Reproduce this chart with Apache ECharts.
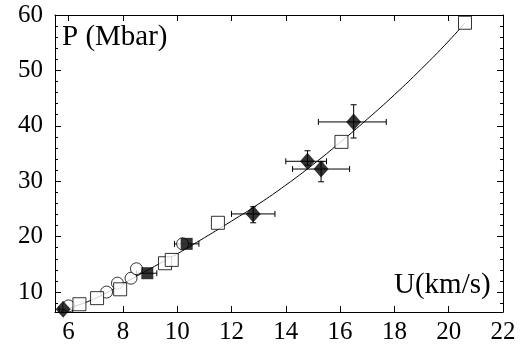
<!DOCTYPE html>
<html>
<head>
<meta charset="utf-8">
<script src="https://cdn.jsdelivr.net/npm/echarts@6/dist/echarts.min.js"></script>
<style>
  html, body { margin: 0; padding: 0; background: #fff; }
  #chart { width: 527px; height: 348px; }
</style>
</head>
<body>
<div id="chart"></div>
<script>
// values: [U (km/s), P (Mbar)]
const fitCurve = [[5.7, 6.4], [6, 7.0], [7, 8.9], [8, 11.5], [9, 14.2], [10, 16.9], [11, 19.8],
  [12, 22.8], [13, 25.9], [14, 29.3], [15, 33.0], [16, 37.0], [17, 41.2], [18, 45.6],
  [19, 50.3], [20, 55.3], [20.6, 58.6]];
const diamonds = [[5.8, 6.9], [12.8, 24.1], [14.8, 33.6], [15.3, 32.2], [16.5, 40.7]];
const filledSquares = [[8.9, 13.4], [10.35, 18.7]];
const openSquares = [[6.4, 7.8], [7.05, 8.9], [7.9, 10.5], [9.55, 15.2], [9.8, 15.8],
  [11.5, 22.5], [16.05, 37.1], [20.6, 58.6]];
const openCircles = [[6.0, 7.5], [7.4, 10.0], [7.8, 11.6], [8.3, 12.5], [8.5, 14.2], [10.2, 18.7]];
// [U, P, Ulow, Uhigh, Plow, Phigh]
const errorBars = [
  [5.8, 6.9, 5.65, 6.15, 6.9, 6.9],
  [8.9, 13.4, 8.5, 9.25, 13.4, 13.4],
  [10.35, 18.7, 9.9, 10.8, 18.7, 18.7],
  [12.8, 24.1, 12.0, 13.6, 22.5, 25.4],
  [14.8, 33.6, 14.0, 15.5, 32.9, 35.5],
  [15.3, 32.2, 14.25, 16.35, 29.9, 33.5],
  [16.5, 40.7, 15.2, 17.7, 37.8, 43.8]
];
const xTicks = [6, 8, 10, 12, 14, 16, 18, 20, 22];
const yMajor = [10, 20, 30, 40, 50, 60];
const yMinor = [8, 12, 14, 16, 18, 22, 24, 26, 28, 32, 34, 36, 38, 42, 44, 46, 48, 52, 54, 56, 58];

const chart = echarts.init(document.getElementById('chart'));
const serif = 'Liberation Serif';
const line = { show: true, lineStyle: { color: '#000', width: 1 } };

function xAx(pos, labels) {
  return {
    type: 'value', position: pos, min: 5.5, max: 22,
    axisLine: line, splitLine: { show: false },
    axisTick: { inside: true, length: 6, customValues: xTicks, lineStyle: { color: '#000' } },
    axisLabel: { show: labels, customValues: xTicks, color: '#000', fontFamily: serif, fontSize: 25, margin: 8 }
  };
}
function yAx(pos, ticks, len, labels) {
  return {
    type: 'value', position: pos, min: 6.4, max: 60,
    axisLine: labels !== null ? line : { show: false }, splitLine: { show: false },
    axisTick: { inside: true, length: len, customValues: ticks, lineStyle: { color: '#000' } },
    axisLabel: { show: !!labels, customValues: yMajor, color: '#000', fontFamily: serif, fontSize: 25, margin: 12 }
  };
}

const errSeries = {
  type: 'custom', z: 3,
  data: errorBars,
  renderItem: function (params, api) {
    const c = api.coord([api.value(0), api.value(1)]);
    const xl = api.coord([api.value(2), api.value(1)]);
    const xh = api.coord([api.value(3), api.value(1)]);
    const yl = api.coord([api.value(0), api.value(4)]);
    const yh = api.coord([api.value(0), api.value(5)]);
    const st = { stroke: '#000', lineWidth: 1 };
    const cap = 3;
    const kids = [
      { type: 'line', shape: { x1: xl[0], y1: c[1], x2: xh[0], y2: c[1] }, style: st },
      { type: 'line', shape: { x1: xl[0], y1: c[1] - cap, x2: xl[0], y2: c[1] + cap }, style: st },
      { type: 'line', shape: { x1: xh[0], y1: c[1] - cap, x2: xh[0], y2: c[1] + cap }, style: st }
    ];
    if (yh[1] !== yl[1]) {
      kids.push({ type: 'line', shape: { x1: c[0], y1: yl[1], x2: c[0], y2: yh[1] }, style: st });
      kids.push({ type: 'line', shape: { x1: c[0] - cap, y1: yl[1], x2: c[0] + cap, y2: yl[1] }, style: st });
      kids.push({ type: 'line', shape: { x1: c[0] - cap, y1: yh[1], x2: c[0] + cap, y2: yh[1] }, style: st });
    }
    return { type: 'group', children: kids };
  }
};

const option = {
  animation: false,
  backgroundColor: '#fff',
  grid: { left: 55, right: 24, top: 15, bottom: 36 },
  xAxis: [xAx('bottom', true), xAx('top', false)],
  yAxis: [
    yAx('left', yMajor, 6, true),
    yAx('left', yMinor, 3, null),
    yAx('right', yMajor, 6, false),
    yAx('right', yMinor, 3, null)
  ],
  graphic: [
    { type: 'text', left: 62, top: 23,
      style: { text: 'P (Mbar)', fontFamily: serif, fontSize: 29, fill: '#000' } },
    { type: 'text', left: 394, top: 271,
      style: { text: 'U(km/s)', fontFamily: serif, fontSize: 29, fill: '#000' } }
  ],
  series: [
    { type: 'line', data: fitCurve, smooth: true, symbol: 'none', z: 1,
      lineStyle: { color: '#000', width: 1 } },
    errSeries,
    { type: 'scatter', data: openCircles, symbol: 'circle', symbolSize: 12, z: 4,
      itemStyle: { color: '#fff', borderColor: '#000', borderWidth: 1 } },
    { type: 'scatter', data: openSquares, symbol: 'rect', symbolSize: 13, z: 5,
      itemStyle: { color: '#fff', borderColor: '#000', borderWidth: 1 } },
    { type: 'scatter', data: filledSquares, symbol: 'rect', symbolSize: 12, z: 6,
      itemStyle: { color: '#000' } },
    { type: 'scatter', data: diamonds, symbol: 'diamond', symbolSize: [15, 17], z: 6,
      itemStyle: { color: '#000' } }
  ]
};
chart.setOption(option);
</script>
</body>
</html>
